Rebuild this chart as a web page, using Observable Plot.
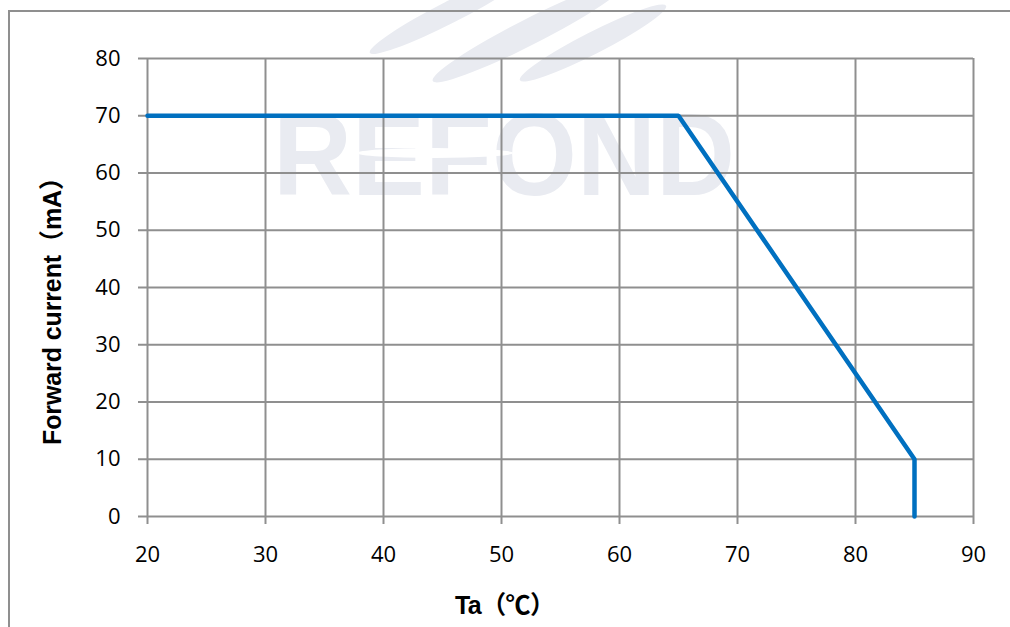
<!DOCTYPE html>
<html><head><meta charset="utf-8">
<script src="https://cdn.jsdelivr.net/npm/d3@7"></script>
<script src="https://cdn.jsdelivr.net/npm/@observablehq/plot@0.6"></script>
<style>
html,body{margin:0;background:#fff;overflow:hidden}
#chart{position:absolute;left:0;top:0}
</style>
</head><body>
<div id="chart"></div>
<script>
const temperature = [20, 65, 85, 85];
const current = [70, 70, 10, 0];
const xTicks = [20, 30, 40, 50, 60, 70, 80, 90];
const yTicks = [0, 10, 20, 30, 40, 50, 60, 70, 80];
const xTitle = "Ta（℃）";
const yTitle = "Forward current（mA）";
const watermark = "REFOND";

const data = temperature.map((t, i) => ({t, c: current[i]}));
const gridColor = "#8f8f8f";

const plot = Plot.plot({
  width: 1010, height: 627,
  marginLeft: 147, marginRight: 37, marginTop: 58, marginBottom: 111,
  x: {domain: [20, 90], label: null},
  y: {domain: [0, 80], label: null},
  style: {fontFamily: "'Open Sans', sans-serif", fontSize: "22px", color: "#000", background: "transparent", overflow: "visible"},
  marks: [
    Plot.gridX(xTicks, {stroke: gridColor, strokeOpacity: 1, strokeWidth: 2}),
    Plot.gridY(yTicks, {stroke: gridColor, strokeOpacity: 1, strokeWidth: 2}),
    Plot.axisX(xTicks, {tickSize: 8, tickPadding: 22, stroke: gridColor, strokeWidth: 2, fill: "#000", fontSize: 22, tickFormat: d => String(d)}),
    Plot.axisY(yTicks, {tickSize: 9, tickPadding: 18, stroke: gridColor, strokeWidth: 2, fill: "#000", fontSize: 22, tickFormat: d => String(d)}),
    Plot.line(data, {x: "t", y: "c", stroke: "#0070C0", strokeWidth: 4.5, strokeLinejoin: "miter"})
  ]
});
document.getElementById("chart").appendChild(plot);

const svg = d3.select(plot);
// watermark behind everything
const wm = svg.insert("g", ":first-child").attr("fill", "#e9ebf1");
[[450, 12, 90, 11, -27], [529, 32, 108, 13, -27], [593, 43, 82, 11, -27]].forEach(([cx, cy, rx, ry, a]) => {
  wm.append("ellipse").attr("cx", cx).attr("cy", cy).attr("rx", rx).attr("ry", ry)
    .attr("transform", `rotate(${a},${cx},${cy})`);
});
wm.append("text").attr("x", 273).attr("y", 195).attr("text-anchor", "start")
  .attr("font-family", "'Liberation Sans', Arial, sans-serif").attr("font-weight", "bold")
  .attr("font-size", 116).attr("textLength", 462).attr("lengthAdjust", "spacingAndGlyphs").text(watermark);
wm.append("ellipse").attr("cx", 435).attr("cy", 153).attr("rx", 78).attr("ry", 5).attr("fill", "#fff");

// outer frame (top and left edges visible)
svg.append("path").attr("d", "M9,700V11H1010").attr("fill", "none").attr("stroke", gridColor).attr("stroke-width", 2);

// axis titles
const titleFont = "'Liberation Sans', 'Noto Sans CJK SC', sans-serif";
svg.append("text").attr("x", 505).attr("y", 614).attr("text-anchor", "middle")
  .attr("font-family", titleFont).attr("font-weight", "bold")
  .attr("font-size", 25).attr("fill", "#000")
  .attr("textLength", 100).attr("lengthAdjust", "spacing").text(xTitle);
svg.append("text").attr("transform", "translate(61,305) rotate(-90)").attr("text-anchor", "middle")
  .attr("font-family", titleFont).attr("font-weight", "bold")
  .attr("font-size", 25).attr("fill", "#000")
  .attr("textLength", 280).attr("lengthAdjust", "spacing").text(yTitle);
</script>
</body></html>
